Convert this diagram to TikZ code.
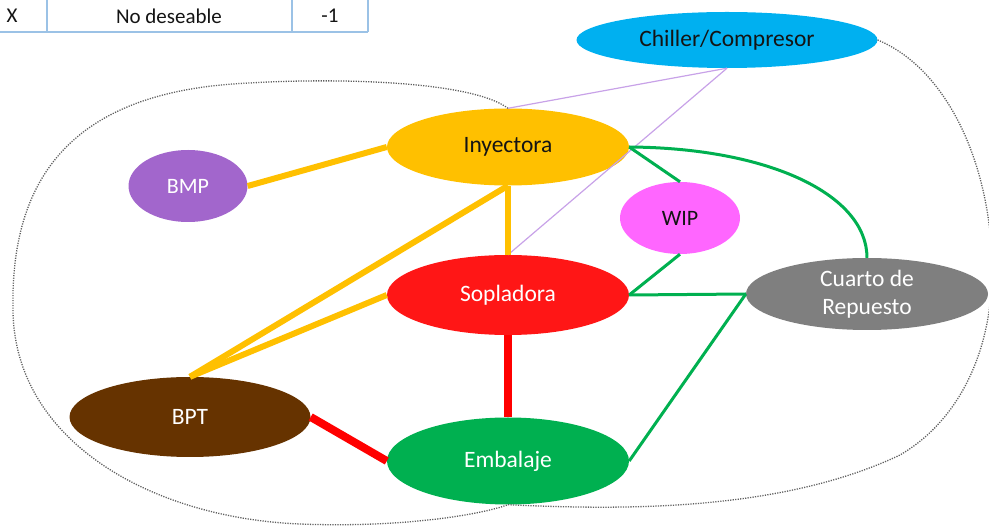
\documentclass[tikz,border=0pt]{standalone}
\usepackage{fontspec}
\setmainfont{Carlito}
\usetikzlibrary{shapes.geometric}

\definecolor{cChiller}{RGB}{0,176,240}
\definecolor{cIny}{RGB}{255,192,0}
\definecolor{cBmp}{RGB}{162,102,204}
\definecolor{cWip}{RGB}{255,102,255}
\definecolor{cSop}{RGB}{255,22,22}
\definecolor{cCuarto}{RGB}{127,127,127}
\definecolor{cBpt}{RGB}{102,51,0}
\definecolor{cEmb}{RGB}{0,176,80}
\definecolor{cLav}{RGB}{200,162,232}
\definecolor{cGrid}{RGB}{155,194,230}
\definecolor{cDot}{RGB}{95,95,95}
\definecolor{cInk}{RGB}{20,20,20}

\begin{document}
\begin{tikzpicture}[x=1pt,y=-1pt,
  bubble/.style={ellipse, inner sep=0pt, align=center,
    font=\fontsize{23.5}{28}\selectfont},
  darktext/.style={text=cInk},
  lighttext/.style={text=white},
  tabletext/.style={inner sep=0pt, text=cInk, font=\fontsize{21}{25}\selectfont},
  gridline/.style={draw=cGrid, line width=1.2pt},
  boundary/.style={draw=cDot, line width=1.3pt, dash pattern=on 1.2pt off 1.3pt},
  yellowlink/.style={draw=cIny, line width=6pt},
  redlink/.style={draw=red, line width=8pt},
  greenlink/.style={draw=cEmb, line width=3pt},
  lavlink/.style={draw=cLav, line width=1.2pt}]

\useasboundingbox (0,0) rectangle (989,526);

% legend row at the top left
\draw[gridline] (47,0) -- (47,32);
\draw[gridline] (292,0) -- (292,32);
\draw[gridline] (368,0) -- (368,32);
\draw[gridline] (0,32) -- (368,32);
\node[tabletext] (symX) at (12,16) {X};
\node[tabletext] (symText) at (169,16) {No deseable};
\node[tabletext] (symVal) at (330,16) {-1};

% nodes
\node[bubble, darktext, fill=cChiller, minimum width=301pt, minimum height=56pt] (chiller) at (727,40) {Chiller/Compresor};
\node[bubble, darktext, fill=cIny, minimum width=242pt, minimum height=77pt] (iny) at (508,147) {Inyectora};
\node[bubble, lighttext, fill=cBmp, minimum width=119pt, minimum height=72pt, font=\fontsize{22}{26}\selectfont] (bmp) at (188,186) {BMP};
\node[bubble, darktext, fill=cWip, minimum width=120pt, minimum height=72pt, font=\fontsize{22}{26}\selectfont] (wip) at (680,218) {WIP};
\node[bubble, lighttext, fill=cSop, minimum width=242pt, minimum height=80pt] (sop) at (508,295) {Sopladora};
\node[bubble, lighttext, fill=cCuarto, minimum width=242pt, minimum height=72pt] (cuarto) at (867,294) {Cuarto de\\Repuesto};
\node[bubble, lighttext, fill=cBpt, minimum width=241pt, minimum height=80pt] (bpt) at (190,417) {BPT};
\node[bubble, lighttext, fill=cEmb, minimum width=242pt, minimum height=87pt] (emb) at (508,461) {Embalaje};

% dotted outline around the groups
\draw[boundary] (iny.north) .. controls (470,80) and (330,78) .. (250,83)
  .. controls (80,90) and (10,170) .. (13,310)
  .. controls (14,440) and (150,518) .. (300,524)
  .. controls (400,528) and (480,515) .. (emb.south);
\draw[boundary] (emb.south) .. controls (620,510) and (780,512) .. (900,455)
  .. controls (960,420) and (992,350) .. (992,270)
  .. controls (992,170) and (950,70) .. (chiller.east);

% links
\draw[lavlink] (chiller.south) -- (iny.north);
\draw[lavlink] (chiller.south) -- (sop.north);

\draw[yellowlink] (bmp.east) -- (iny.west);
\draw[yellowlink] (iny.south) -- (sop.north);
\draw[yellowlink] (iny.south) -- (bpt.north);
\draw[yellowlink] (sop.west) -- (bpt.north);

\draw[redlink] (sop.south) -- (emb.north);
\draw[redlink] (bpt.east) -- (emb.west);

\draw[greenlink] (iny.east) -- (wip.north);
\draw[greenlink] (iny.east) .. controls (770,148) and (867,195) .. (cuarto.north);
\draw[greenlink] (wip.south) -- (sop.east);
\draw[greenlink] (sop.east) -- (cuarto.west);
\draw[greenlink] (cuarto.west) -- (emb.east);
\end{tikzpicture}
\end{document}
